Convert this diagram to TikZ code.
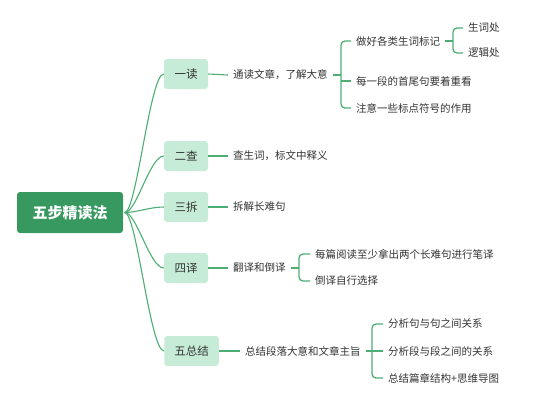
\documentclass[tikz,border=0pt]{standalone}
\usepackage{fontspec}
\newfontfamily\cjk{Noto Sans CJK SC}
\usetikzlibrary{calc}
\definecolor{rootg}{HTML}{37995F}
\definecolor{lightg}{HTML}{C6ECD8}
\definecolor{lineg}{HTML}{4DAE73}
\definecolor{txt}{HTML}{333333}
\tikzset{
  rootbox/.style={fill=rootg, rounded corners=3pt, minimum width=106pt, minimum height=41pt, text=white, font=\cjk\bfseries\fontsize{15}{18}\selectfont, inner sep=0pt},
  lvlbox/.style={fill=lightg, rounded corners=3pt, minimum height=30pt, inner xsep=10pt, inner ysep=0pt, text=txt, font=\cjk\fontsize{11.5}{14}\selectfont},
  leaf/.style={anchor=west, inner xsep=5pt, inner ysep=2pt, text=txt, font=\cjk\fontsize{10.5}{13}\selectfont},
  link/.style={draw=lineg, line width=1.1pt},
  brk/.style={draw=lineg, line width=1.3pt, rounded corners=4pt},
}
\begin{document}
\begin{tikzpicture}[x=1pt,y=-1pt]
\useasboundingbox (0,0) rectangle (555,408);
% root
\node[rootbox] (root) at (70,212.5) {五步精读法};
\coordinate (rs) at ($(root.east)+(1.5,0)$);
% level 1
\node[lvlbox, minimum width=44pt] (yi) at (186,74) {一读};
\node[lvlbox, minimum width=44pt] (er) at (186,156) {二查};
\node[lvlbox, minimum width=44pt] (san) at (186,207) {三拆};
\node[lvlbox, minimum width=44pt] (si) at (186,268) {四译};
\node[lvlbox, minimum width=53pt] (wu) at (191.5,351) {五总结};
% root links
\foreach \n in {yi,er,san,si,wu}{
  \draw[link] (rs) .. controls +(12,0) and +(-14,0) .. (\n.west);
}
% level 2
\node[leaf] (yi2) at (228,75) {通读文章，了解大意};
\node[leaf] (er2) at (228,156) {查生词，标文中释义};
\node[leaf] (san2) at (228,207) {拆解长难句};
\node[leaf] (si2) at (228,268) {翻译和倒译};
\node[leaf] (wu2) at (240,351) {总结段落大意和文章主旨};
\draw[link] (yi.east) -- (yi2.west);
\draw[link] (er.east) -- (er2.west);
\draw[link] (san.east) -- (san2.west);
\draw[link] (si.east) -- (si2.west);
\draw[link] (wu.east) -- (wu2.west);
% yi children
\node[leaf] (a1) at (351,41) {做好各类生词标记};
\node[leaf] (a2) at (351,81) {每一段的首尾句要着重看};
\node[leaf] (a3) at (351,108) {注意一些标点符号的作用};
\coordinate (ba) at (341,75);
\draw[link] (yi2.east) -- (ba);
\draw[brk] (a1.west) -| (ba) |- (a3.west);
\draw[brk] (ba |- a2.west) -- (a2.west);
% a1 children
\node[leaf] (b1) at (463,28) {生词处};
\node[leaf] (b2) at (463,53) {逻辑处};
\coordinate (bb) at (453,41);
\draw[link] (a1.east) -- (bb);
\draw[brk] (b1.west) -| (bb) |- (b2.west);
% si children
\node[leaf] (c1) at (310,254) {每篇阅读至少拿出两个长难句进行笔译};
\node[leaf] (c2) at (310,281) {倒译自行选择};
\coordinate (bc) at (299,268);
\draw[link] (si2.east) -- (bc);
\draw[brk] (c1.west) -| (bc) |- (c2.west);
% wu children
\node[leaf] (d1) at (383,324) {分析句与句之间关系};
\node[leaf] (d2) at (383,351) {分析段与段之间的关系};
\node[leaf] (d3) at (383,378) {总结篇章结构+思维导图};
\coordinate (bd) at (372,351);
\draw[link] (wu2.east) -- (bd);
\draw[brk] (d1.west) -| (bd) |- (d3.west);
\draw[brk] (bd) -- (d2.west);
\end{tikzpicture}
\end{document}
